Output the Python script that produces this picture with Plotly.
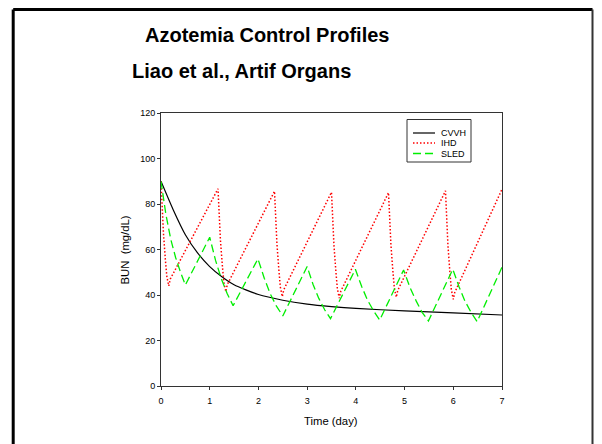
import plotly.graph_objects as go

# ---- data ----
cvvh_t = [0, 0.25, 0.5, 0.75, 1.0, 1.25, 1.5, 2.0, 2.5, 3.0, 3.5, 4.0, 5.0, 6.0, 7.0]
cvvh_v = [90, 77.5, 66.5, 58.5, 52.5, 48.0, 44.5, 40.2, 37.7, 36.0, 34.9, 34.1, 33.0, 32.1, 31.2]

ihd_t = [0, 0.02, 0.05, 0.09, 0.12, 0.16, 0.19,
         1.17, 1.19, 1.22, 1.26, 1.29, 1.33, 1.36,
         2.33, 2.35, 2.38, 2.42, 2.45, 2.49, 2.52,
         3.50, 3.52, 3.55, 3.59, 3.62, 3.66, 3.69,
         4.67, 4.69, 4.72, 4.76, 4.79, 4.83, 4.86,
         5.84, 5.86, 5.89, 5.93, 5.96, 6.00, 6.03,
         7.0]
ihd_v = [90, 77.4, 67.3, 55.4, 48.1, 44.0, 47.0,
         86.7, 74.0, 64.1, 52.8, 45.6, 41.5, 44.5,
         85.6, 72.6, 62.4, 50.9, 43.5, 39.3, 42.3,
         85.2, 72.2, 61.9, 50.3, 42.8, 38.6, 41.6,
         85.0, 72.1, 62.0, 50.5, 43.1, 39.0, 42.0,
         85.8, 72.4, 61.9, 50.0, 42.4, 38.1, 41.1,
         86.5]

sled_t = [0, 0.1, 0.2, 0.3, 0.4, 0.5,
          1.0, 1.12, 1.24, 1.36, 1.48,
          1.99, 2.12, 2.24, 2.37, 2.50,
          3.0, 3.12, 3.24, 3.36, 3.48,
          3.99, 4.12, 4.24, 4.37, 4.49,
          4.98, 5.11, 5.24, 5.36, 5.49,
          5.99, 6.12, 6.24, 6.37, 6.49,
          7.0]
sled_v = [90, 75.5, 64.5, 56.5, 50.0, 44.4,
          65.4, 55.2, 47.0, 40.5, 35.3,
          55.9, 47.4, 40.6, 35.1, 30.8,
          52.5, 44.7, 38.5, 33.5, 29.6,
          51.3, 43.7, 37.7, 32.8, 29.0,
          51.0, 43.4, 37.3, 32.4, 28.6,
          51.3, 43.5, 37.3, 32.2, 28.3,
          52.2]

series_names = ["CVVH", "IHD", "SLED"]
x_ticks = [0, 1, 2, 3, 4, 5, 6, 7]
y_ticks = [0, 20, 40, 60, 80, 100, 120]

FONT = "Liberation Sans, Arial, sans-serif"
GREEN = "#00ee00"
RED = "#ff0000"

# page offset (default body margin of the html page)
OFF = 8
W, H = 602, 444
# plot area in page pixels: x 161..502, y 113..386
PL, PR, PT, PB = 161, 502, 113, 386
L = PL - OFF
T = PT - OFF
PW, PH = PR - PL, PB - PT
R = W - L - PW
B = H - T - PH


def px(x):
    return (x - PL) / PW


def py(y):
    return (PB - y) / PH


fig = go.Figure()
fig.add_trace(go.Scatter(x=cvvh_t, y=cvvh_v, mode="lines", name=series_names[0],
                         line=dict(color="#000000", width=1.2, shape="spline", smoothing=0.6)))
fig.add_trace(go.Scatter(x=ihd_t, y=ihd_v, mode="lines", name=series_names[1],
                         line=dict(color=RED, width=1.5, dash="1.5px,2px")))
fig.add_trace(go.Scatter(x=sled_t, y=sled_v, mode="lines", name=series_names[2],
                         line=dict(color=GREEN, width=1.3, dash="8px,4px")))

shapes = []
annotations = []

# outer frame (kept inside the visible area)
fx0, fx1, fy0, fy1 = px(13.2), px(592.5), py(9.6), py(470)
shapes.append(dict(type="line", xref="paper", yref="paper", x0=fx0, x1=fx0, y0=fy0, y1=fy1,
                   line=dict(color="#000", width=3)))
shapes.append(dict(type="line", xref="paper", yref="paper", x0=fx0, x1=fx1, y0=fy0, y1=fy0,
                   line=dict(color="#000", width=3)))
shapes.append(dict(type="line", xref="paper", yref="paper", x0=fx1, x1=fx1, y0=fy0, y1=fy1,
                   line=dict(color="#333", width=2)))

# legend box
shapes.append(dict(type="rect", xref="paper", yref="paper", x0=px(407), x1=px(471),
                   y0=py(162), y1=py(119.5), line=dict(color="#333", width=1), fillcolor="white"))
leg_y = [133, 143, 153.5]
leg_style = [dict(color="#000", width=1.2),
             dict(color=RED, width=1.5, dash="1.5px,2px"),
             dict(color=GREEN, width=1.3, dash="8px,4px")]
for name, yy, st in zip(series_names, leg_y, leg_style):
    shapes.append(dict(type="line", xref="paper", yref="paper", x0=px(413), x1=px(435),
                       y0=py(yy), y1=py(yy), line=st))
    annotations.append(dict(text=name, xref="paper", yref="paper", x=px(439), y=py(yy),
                            xanchor="left", yanchor="middle", showarrow=False,
                            font=dict(family=FONT, size=9, color="#000")))

# titles
annotations.append(dict(text="<b>Azotemia Control Profiles</b>", xref="paper", yref="paper",
                        x=px(266.7), y=py(34.7), xanchor="center", yanchor="middle",
                        showarrow=False, font=dict(family=FONT, size=20, color="#000")))
annotations.append(dict(text="<b>Liao et al., Artif Organs</b>", xref="paper", yref="paper",
                        x=px(241.7), y=py(70.5), xanchor="center", yanchor="middle",
                        showarrow=False, font=dict(family=FONT, size=20, color="#000")))
# axis titles
annotations.append(dict(text="Time (day)", xref="paper", yref="paper",
                        x=px(331), y=py(421), xanchor="center", yanchor="middle",
                        showarrow=False, font=dict(family=FONT, size=11.3, color="#000")))
annotations.append(dict(text="BUN\u00a0 (mg/dL)", xref="paper", yref="paper", textangle=-90,
                        x=px(124.5), y=py(250), xanchor="center", yanchor="middle",
                        showarrow=False, font=dict(family=FONT, size=11.3, color="#000")))

fig.update_layout(
    width=W, height=H,
    margin=dict(l=L, r=R, t=T, b=B, pad=0),
    paper_bgcolor="white", plot_bgcolor="white",
    showlegend=False,
    font=dict(family=FONT, size=9, color="#000"),
    shapes=shapes, annotations=annotations,
)
axis_common = dict(showgrid=False, zeroline=False, showline=True, linecolor="#333", linewidth=1,
                   mirror=True, ticks="outside", ticklen=3, tickwidth=1, tickcolor="#333",
                   tickfont=dict(family=FONT, size=9, color="#000"))
fig.update_xaxes(range=[0, 7], tickvals=x_ticks, ticklabelstandoff=3, **axis_common)
fig.update_yaxes(range=[0, 120], tickvals=y_ticks, **axis_common)

fig.write_html("out.html")
